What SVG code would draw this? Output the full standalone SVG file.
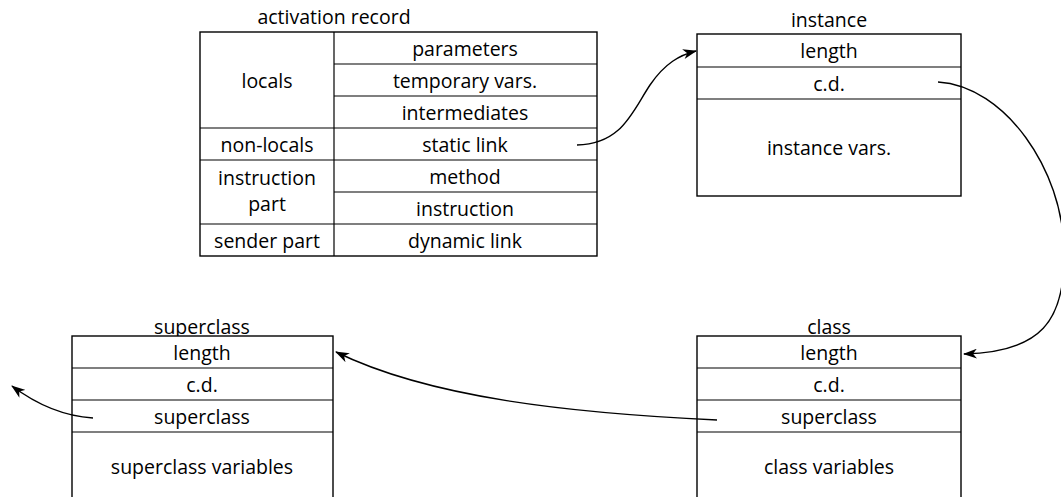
<svg xmlns="http://www.w3.org/2000/svg" width="1061" height="497" viewBox="0 0 1061 497">
  <style>
    text { font-family: "Open Sans", "Liberation Sans", sans-serif; font-size: 19.5px; fill: #000; text-anchor: middle; dominant-baseline: central; }
    .box { fill: #fff; stroke: #000; stroke-width: 1.4; }
    .rule { stroke: #000; stroke-width: 1.2; fill: none; }
    .link { stroke: #000; stroke-width: 1.4; fill: none; marker-end: url(#head); }
  </style>
  <defs>
    <marker id="head" viewBox="0 0 14 10" refX="13" refY="5" markerWidth="14" markerHeight="10" markerUnits="userSpaceOnUse" orient="auto">
      <path d="M0,0 L14,5 L0,10 L4,5 z" fill="#000"/>
    </marker>
  </defs>
  <rect width="1061" height="497" fill="#fff"/>

  <!-- activation record -->
  <g id="activation-record">
    <text x="334" y="16">activation record</text>
    <rect class="box" x="200" y="32" width="397" height="224"/>
    <line class="rule" x1="334" y1="32" x2="334" y2="256"/>
    <line class="rule" x1="334" y1="64" x2="597" y2="64"/>
    <line class="rule" x1="334" y1="96" x2="597" y2="96"/>
    <line class="rule" x1="200" y1="128" x2="597" y2="128"/>
    <line class="rule" x1="200" y1="160" x2="597" y2="160"/>
    <line class="rule" x1="334" y1="192" x2="597" y2="192"/>
    <line class="rule" x1="200" y1="224" x2="597" y2="224"/>
    <text x="267" y="80">locals</text>
    <text x="267" y="144">non-locals</text>
    <text x="267" y="177">instruction</text>
    <text x="267" y="203">part</text>
    <text x="267" y="240">sender part</text>
    <text x="465" y="48">parameters</text>
    <text x="465" y="80">temporary vars.</text>
    <text x="465" y="112">intermediates</text>
    <text x="465" y="144">static link</text>
    <text x="465" y="176">method</text>
    <text x="465" y="208">instruction</text>
    <text x="465" y="240">dynamic link</text>
  </g>

  <!-- instance -->
  <g id="instance">
    <text x="829" y="19">instance</text>
    <rect class="box" x="697" y="34" width="264" height="162"/>
    <line class="rule" x1="697" y1="67" x2="961" y2="67"/>
    <line class="rule" x1="697" y1="99" x2="961" y2="99"/>
    <text x="829" y="50">length</text>
    <text x="829" y="83">c.d.</text>
    <text x="829" y="147">instance vars.</text>
  </g>

  <!-- class -->
  <g id="class">
    <text x="829" y="326">class</text>
    <rect class="box" x="697" y="336" width="264" height="175"/>
    <line class="rule" x1="697" y1="368" x2="961" y2="368"/>
    <line class="rule" x1="697" y1="400" x2="961" y2="400"/>
    <line class="rule" x1="697" y1="432" x2="961" y2="432"/>
    <text x="829" y="352">length</text>
    <text x="829" y="384">c.d.</text>
    <text x="829" y="416">superclass</text>
    <text x="829" y="466">class variables</text>
  </g>

  <!-- superclass -->
  <g id="superclass">
    <text x="202" y="326">superclass</text>
    <rect class="box" x="72" y="336" width="261" height="175"/>
    <line class="rule" x1="72" y1="368" x2="333" y2="368"/>
    <line class="rule" x1="72" y1="400" x2="333" y2="400"/>
    <line class="rule" x1="72" y1="432" x2="333" y2="432"/>
    <text x="202" y="352">length</text>
    <text x="202" y="384">c.d.</text>
    <text x="202" y="416">superclass</text>
    <text x="202" y="466">superclass variables</text>
  </g>

  <!-- pointers -->
  <g id="connectors">
    <path class="link" d="M577,145 C622,144 632,112 650,85 C665,63 680,55 696,51"/>
    <path class="link" d="M938,82 C1005,86 1063,170 1064,250 C1066,322 1040,352 964,354"/>
    <path class="link" d="M717,420 C570,413 430,398 336,352"/>
    <path class="link" d="M93,418 C62,416 36,404 12,386"/>
  </g>
</svg>
